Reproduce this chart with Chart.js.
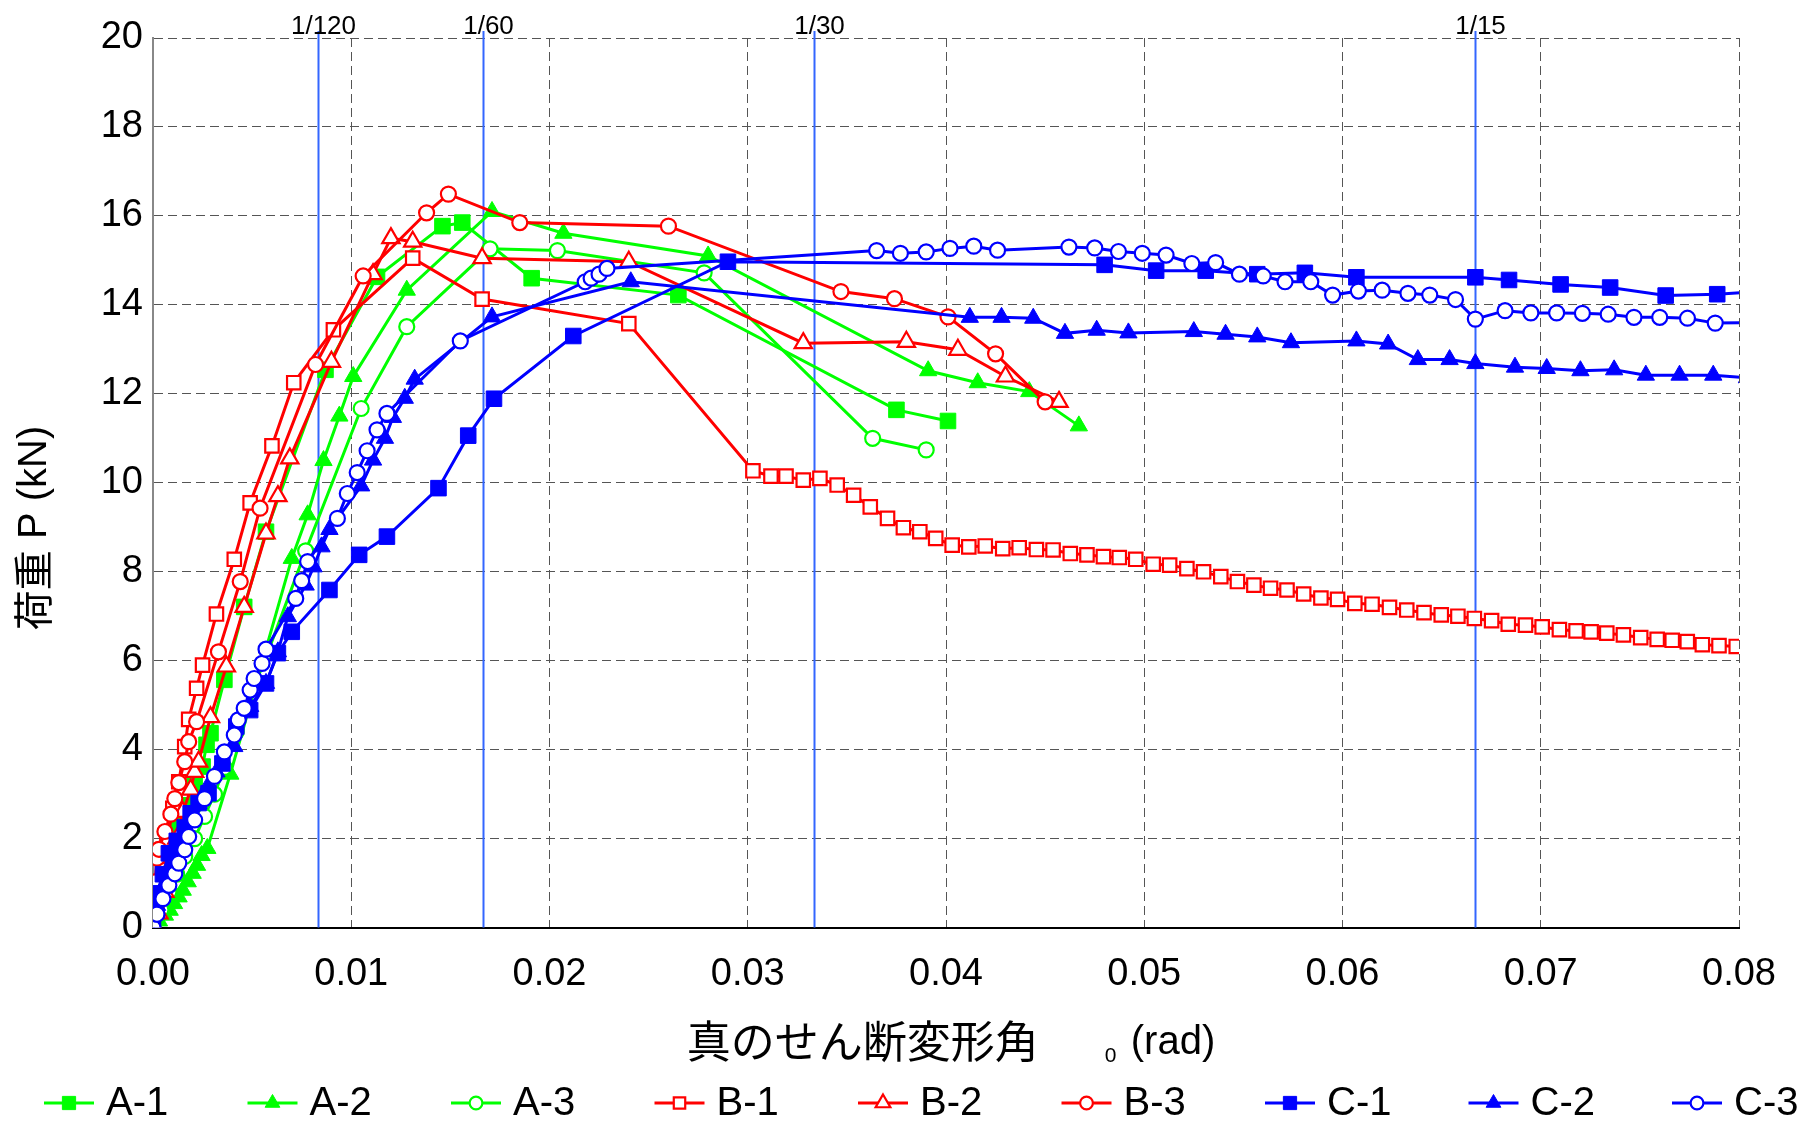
<!DOCTYPE html>
<html>
<head>
<meta charset="utf-8">
<script src="https://cdn.jsdelivr.net/npm/chart.js@4.4.0/dist/chart.umd.min.js"></script>
<style>
html, body { margin: 0; padding: 0; background: #fff; }
</style>
</head>
<body>
<canvas id="chart" width="1800" height="1123"></canvas>
<script>
const FONT = '"Liberation Sans Narrow", "Arial Narrow", "Liberation Sans", Arial, sans-serif';
const JP = '"Noto Sans CJK JP", "Noto Sans CJK SC", sans-serif';

// Data (x = rad, y = kN)
const seriesNames = ['A-1', 'A-2', 'A-3', 'B-1', 'B-2', 'B-3', 'C-1', 'C-2', 'C-3'];

const a1X = [0, 0.0004, 0.0007, 0.0010, 0.0013, 0.0017, 0.0021, 0.0025, 0.0027, 0.0029, 0.0036, 0.0046, 0.0057, 0.0087, 0.0113, 0.0146, 0.0156, 0.0191, 0.0265, 0.0375, 0.0401];
const a1Y = [0, 0.6, 1.2, 1.8, 2.3, 2.75, 3.2, 3.62, 4.11, 4.37, 5.57, 7.21, 8.9, 12.54, 14.63, 15.77, 15.85, 14.6, 14.22, 11.64, 11.39];

const a2X = [0, 0.0003, 0.0006, 0.00084, 0.00106, 0.00129, 0.0015, 0.00175, 0.002, 0.00222, 0.00245, 0.00274, 0.0039, 0.0070, 0.0078, 0.0086, 0.0094, 0.0101, 0.0128, 0.0171, 0.0207, 0.0280, 0.0391, 0.0416, 0.0442, 0.0467];
const a2Y = [0, 0.15, 0.28, 0.39, 0.54, 0.69, 0.84, 1.03, 1.22, 1.40, 1.62, 1.78, 3.45, 8.3, 9.28, 10.5, 11.5, 12.39, 14.33, 16.10, 15.61, 15.10, 12.52, 12.25, 12.05, 11.28];

const a3X = [0, 0.0004, 0.0008, 0.0012, 0.0016, 0.0021, 0.0026, 0.0031, 0.0036, 0.0042, 0.0058, 0.0077, 0.0105, 0.0128, 0.0170, 0.0204, 0.0278, 0.0363, 0.0390];
const a3Y = [0, 0.4, 0.8, 1.2, 1.6, 2.0, 2.5, 3.0, 3.6, 4.4, 6.2, 8.47, 11.67, 13.51, 15.26, 15.22, 14.72, 11.0, 10.74];

const b1X = [0, 0.0002, 0.0005, 0.0007, 0.0010, 0.0013, 0.0016, 0.0018, 0.0022, 0.0025, 0.0032, 0.0041, 0.0049, 0.0060, 0.0071, 0.0091, 0.0131, 0.0166, 0.0240,
  0.03026, 0.03117, 0.03193, 0.03280, 0.03364, 0.03451, 0.03534, 0.03618, 0.03705, 0.03785, 0.03868, 0.03948, 0.04031, 0.04115, 0.04198,
  0.04286, 0.04369, 0.04456, 0.04540, 0.04627, 0.04711, 0.04794, 0.04874, 0.04957, 0.05045, 0.05128, 0.05215, 0.05299, 0.05386, 0.05470,
  0.05553, 0.05637, 0.05720, 0.05804, 0.05891, 0.05975, 0.06062, 0.06149, 0.06237, 0.06324, 0.06411, 0.06498, 0.06582, 0.06665, 0.06752,
  0.06836, 0.06923, 0.07007, 0.07094, 0.07178, 0.07254, 0.07333, 0.07417, 0.07504, 0.07587, 0.07663, 0.07739, 0.07815, 0.07899, 0.07986];
const b1Y = [0, 0.6, 1.3, 1.9, 2.68, 3.28, 4.07, 4.68, 5.38, 5.9, 7.05, 8.28, 9.55, 10.83, 12.25, 13.44, 15.05, 14.13, 13.58,
  10.27, 10.15, 10.15, 10.06, 10.10, 9.95, 9.72, 9.46, 9.20, 8.99, 8.90, 8.75, 8.60, 8.56, 8.58,
  8.52, 8.54, 8.50, 8.49, 8.41, 8.38, 8.34, 8.32, 8.28, 8.17, 8.15, 8.07, 8.00, 7.89, 7.78,
  7.70, 7.63, 7.59, 7.50, 7.41, 7.38, 7.29, 7.27, 7.20, 7.14, 7.08, 7.03, 7.00, 6.95, 6.90,
  6.82, 6.80, 6.76, 6.70, 6.67, 6.65, 6.62, 6.58, 6.52, 6.48, 6.46, 6.43, 6.36, 6.34, 6.32];

const b2X = [0, 0.0003, 0.0006, 0.0009, 0.0012, 0.0015, 0.0019, 0.0021, 0.0023, 0.0029, 0.0037, 0.0046, 0.0057, 0.0063, 0.0069, 0.0090, 0.0111, 0.0120, 0.0131, 0.0166, 0.0240, 0.0328, 0.0380, 0.0406, 0.0430, 0.0457];
const b2Y = [0, 0.32, 0.8, 1.4, 2.0, 2.6, 3.1, 3.5, 3.73, 4.73, 5.87, 7.21, 8.86, 9.70, 10.55, 12.72, 14.69, 15.50, 15.42, 15.05, 14.97, 13.14, 13.17, 12.99, 12.39, 11.82];

const b3X = [0, 0.0001, 0.0002, 0.0003, 0.0006, 0.0009, 0.0011, 0.0013, 0.0016, 0.0018, 0.0022, 0.0033, 0.0044, 0.0054, 0.0082, 0.0106, 0.0138, 0.0149, 0.0185, 0.0260, 0.0347, 0.0374, 0.0401, 0.0425, 0.0450];
const b3Y = [0, 1.03, 1.56, 1.76, 2.16, 2.55, 2.90, 3.26, 3.73, 4.18, 4.63, 6.20, 7.78, 9.43, 12.66, 14.65, 16.07, 16.49, 15.85, 15.77, 14.30, 14.14, 13.73, 12.90, 11.82];

const c1X = [0, 0.0002, 0.0005, 0.0008, 0.0012, 0.0016, 0.0019, 0.0023, 0.0028, 0.0035, 0.0042, 0.0049, 0.0057, 0.0063, 0.0070, 0.0089, 0.0104, 0.0118, 0.0144, 0.0159, 0.0172, 0.0212, 0.0290,
  0.0480, 0.0506, 0.0531, 0.0557, 0.0581, 0.0607, 0.0667, 0.0684, 0.0710, 0.0735, 0.0763, 0.0789, 0.0815];
const c1Y = [0, 0.77, 1.2, 1.67, 1.95, 2.25, 2.57, 2.8, 3.02, 3.69, 4.52, 4.89, 5.49, 6.17, 6.65, 7.59, 8.38, 8.79, 9.88, 11.06, 11.89, 13.30, 14.97,
  14.90, 14.77, 14.77, 14.69, 14.72, 14.62, 14.62, 14.56, 14.46, 14.39, 14.21, 14.24, 14.31];

const c2X = [0, 0.0002, 0.0005, 0.0008, 0.0011, 0.0015, 0.0019, 0.0023, 0.0027, 0.0032, 0.0041, 0.0049, 0.0057, 0.0063, 0.0068, 0.0077, 0.0081, 0.0085, 0.0089, 0.0105, 0.0111, 0.0117, 0.0121, 0.0127, 0.0132, 0.0171, 0.0241,
  0.0412, 0.0428, 0.0444, 0.0460, 0.0476, 0.0492, 0.0525, 0.0541, 0.0557, 0.0574, 0.0607, 0.0623, 0.0638, 0.0654, 0.0667, 0.0687, 0.0703, 0.0720, 0.0737, 0.0753, 0.0770, 0.0787, 0.0804];
const c2Y = [0, 0.5, 0.9, 1.3, 1.7, 2.05, 2.4, 2.79, 3.13, 3.5, 4.07, 4.97, 5.49, 6.2, 6.99, 7.70, 8.11, 8.56, 8.95, 9.93, 10.51, 11.0, 11.47, 11.90, 12.33, 13.73, 14.52,
  13.72, 13.72, 13.70, 13.36, 13.43, 13.37, 13.40, 13.34, 13.28, 13.15, 13.19, 13.12, 12.77, 12.77, 12.68, 12.60, 12.57, 12.52, 12.54, 12.42, 12.42, 12.42, 12.36];

const c3X = [0, 0.0002, 0.0005, 0.0008, 0.0011, 0.0013, 0.0016, 0.0018, 0.0021, 0.0026, 0.0031, 0.0036, 0.0041, 0.0043, 0.0046, 0.0049, 0.0051, 0.0055, 0.0057, 0.0072,
  0.0075, 0.0078, 0.0093, 0.0098, 0.0103, 0.0108, 0.0113, 0.0118, 0.0155, 0.0218, 0.0221, 0.0225, 0.0229, 0.0365, 0.0377, 0.0390, 0.0402, 0.0414, 0.0426, 0.0462,
  0.0475, 0.0487, 0.0499, 0.0511, 0.0524, 0.0536, 0.0548, 0.0560, 0.0571, 0.0584, 0.0595, 0.0608, 0.0620, 0.0633, 0.0644, 0.0657, 0.0667, 0.0682, 0.0695, 0.0708,
  0.0721, 0.0734, 0.0747, 0.0760, 0.0774, 0.0788, 0.0805];
const c3Y = [0, 0.3, 0.65, 0.95, 1.21, 1.45, 1.75, 2.05, 2.42, 2.9, 3.4, 3.95, 4.33, 4.67, 4.93, 5.34, 5.60, 5.94, 6.26, 7.40,
  7.80, 8.23, 9.20, 9.76, 10.23, 10.72, 11.19, 11.56, 13.19, 14.52, 14.60, 14.69, 14.82, 15.22, 15.16, 15.19, 15.27, 15.32, 15.23, 15.30,
  15.28, 15.20, 15.16, 15.12, 14.93, 14.95, 14.69, 14.65, 14.52, 14.52, 14.22, 14.31, 14.33, 14.26, 14.22, 14.12, 13.68, 13.87, 13.82, 13.82,
  13.81, 13.79, 13.72, 13.72, 13.70, 13.59, 13.60];

// Drift-angle reference lines
const refAngles = [1 / 120, 1 / 60, 1 / 30, 1 / 15];
const refLabels = ['1/120', '1/60', '1/30', '1/15'];

const xs = [a1X, a2X, a3X, b1X, b2X, b3X, c1X, c2X, c3X];
const ys = [a1Y, a2Y, a3Y, b1Y, b2Y, b3Y, c1Y, c2Y, c3Y];

const GREEN = '#00ff00', RED = '#ff0000', BLUE = '#0000ff';
const styles = [
    { color: GREEN, shape: 'rect', filled: true },
    { color: GREEN, shape: 'triangle', filled: true },
    { color: GREEN, shape: 'circle', filled: false },
    { color: RED, shape: 'rect', filled: false },
    { color: RED, shape: 'triangle', filled: false },
    { color: RED, shape: 'circle', filled: false },
    { color: BLUE, shape: 'rect', filled: true },
    { color: BLUE, shape: 'triangle', filled: true },
    { color: BLUE, shape: 'circle', filled: false }
];

function markerRadius(s) {
    if (s.shape === 'rect') return s.filled ? 11 : 9.5;
    if (s.shape === 'triangle') return 10;
    return 7.5;
}

const datasets = seriesNames.map((name, i) => {
    const s = styles[i];
    return {
        label: name,
        data: xs[i].map((x, k) => ({ x: x, y: ys[i][k] })),
        showLine: true,
        borderColor: s.color,
        borderWidth: 3,
        pointStyle: s.shape,
        pointRadius: markerRadius(s),
        pointBackgroundColor: s.filled ? s.color : '#ffffff',
        pointBorderColor: s.color,
        pointBorderWidth: s.filled ? 1 : 2.2,
        order: seriesNames.length - i
    };
});

// Blue reference lines with labels above the plot
const refLinesPlugin = {
    id: 'refLines',
    beforeDatasetsDraw(chart) {
        const { ctx, chartArea, scales } = chart;
        ctx.save();
        ctx.strokeStyle = '#3366ff';
        ctx.lineWidth = 2;
        ctx.fillStyle = '#000';
        ctx.font = '26px ' + FONT;
        ctx.textAlign = 'center';
        ctx.textBaseline = 'alphabetic';
        refAngles.forEach((v, i) => {
            const px = Math.round(scales.x.getPixelForValue(v)) + 0.5;
            ctx.beginPath();
            ctx.moveTo(px, chartArea.top - 7);
            ctx.lineTo(px, chartArea.bottom);
            ctx.stroke();
            ctx.fillText(refLabels[i], px + 5, chartArea.top - 4);
        });
        ctx.restore();
    }
};

// Axis titles and the line+marker legend
const textPlugin = {
    id: 'texts',
    afterDraw(chart) {
        const { ctx, chartArea } = chart;
        const cx = (chartArea.left + chartArea.right) / 2;
        ctx.save();
        ctx.fillStyle = '#000';

        // x title
        const jpTitle = '真のせん断変形角';
        ctx.font = '44px ' + JP;
        const wJp = ctx.measureText(jpTitle).width;
        ctx.font = '40px ' + FONT;
        const wRad = ctx.measureText('(rad)').width;
        const total = wJp + 92 + wRad;
        let x0 = cx - total / 2 + 5;
        ctx.textBaseline = 'middle';
        ctx.textAlign = 'left';
        ctx.font = '44px ' + JP;
        ctx.fillText(jpTitle, x0, 1041);
        ctx.font = '21px ' + FONT;
        ctx.textBaseline = 'alphabetic';
        ctx.fillText('0', x0 + wJp + 66, 1062);
        ctx.font = '40px ' + FONT;
        ctx.textBaseline = 'middle';
        ctx.fillText('(rad)', x0 + wJp + 92, 1043);

        // y title (rotated)
        ctx.save();
        ctx.translate(33, 528);
        ctx.rotate(-Math.PI / 2);
        ctx.font = '40px ' + JP;
        const w1 = ctx.measureText('荷重').width;
        ctx.font = '40px ' + FONT;
        const w2 = ctx.measureText(' P (kN)').width;
        let sx = -(w1 + w2) / 2;
        ctx.textAlign = 'left';
        ctx.textBaseline = 'middle';
        ctx.font = '40px ' + JP;
        ctx.fillText('荷重', sx, 0);
        ctx.font = '40px ' + FONT;
        ctx.fillText(' P (kN)', sx + w1, 2);
        ctx.restore();

        // legend
        const ly = 1103;
        chart.data.datasets.forEach((ds, i) => {
            const lx = 44 + i * 203.5;
            ctx.strokeStyle = ds.borderColor;
            ctx.lineWidth = 3;
            ctx.beginPath();
            ctx.moveTo(lx, ly);
            ctx.lineTo(lx + 50, ly);
            ctx.stroke();
            ctx.fillStyle = ds.pointBackgroundColor;
            ctx.strokeStyle = ds.pointBorderColor;
            ctx.lineWidth = ds.pointBorderWidth;
            Chart.helpers.drawPoint(ctx, {
                pointStyle: ds.pointStyle,
                radius: ds.pointRadius * 0.85,
                rotation: 0,
                borderWidth: ds.pointBorderWidth
            }, lx + 25, ly);
            ctx.fillStyle = '#000';
            ctx.font = '40px ' + FONT;
            ctx.textAlign = 'left';
            ctx.textBaseline = 'middle';
            ctx.fillText(ds.label, lx + 62, ly + 1);
        });
        ctx.restore();
    }
};

const ctx = document.getElementById('chart').getContext('2d');
new Chart(ctx, {
    type: 'scatter',
    data: { datasets: datasets },
    options: {
        responsive: false,
        animation: false,
        layout: { padding: { top: 38, right: 34, left: 0, bottom: 0 } },
        plugins: {
            legend: { display: false },
            tooltip: { enabled: false }
        },
        scales: {
            x: {
                type: 'linear',
                min: 0,
                max: 0.08,
                afterFit(scale) { scale.height = 1123 - 927.6; },
                ticks: {
                    stepSize: 0.01,
                    maxRotation: 0,
                    padding: 24,
                    color: '#000',
                    font: { family: FONT, size: 38 },
                    callback: v => Number(v).toFixed(2)
                },
                grid: { color: '#555', lineWidth: 1, drawTicks: false },
                border: { color: '#000', width: 2, dash: [9, 5] }
            },
            y: {
                min: 0,
                max: 20,
                afterFit(scale) { scale.width = 153; },
                ticks: {
                    stepSize: 2,
                    padding: 10,
                    color: '#000',
                    font: { family: FONT, size: 38 }
                },
                grid: { color: '#555', lineWidth: 1, drawTicks: false },
                border: { color: '#888', width: 2, dash: [9, 5] }
            }
        }
    },
    plugins: [refLinesPlugin, textPlugin]
});
</script>
</body>
</html>
